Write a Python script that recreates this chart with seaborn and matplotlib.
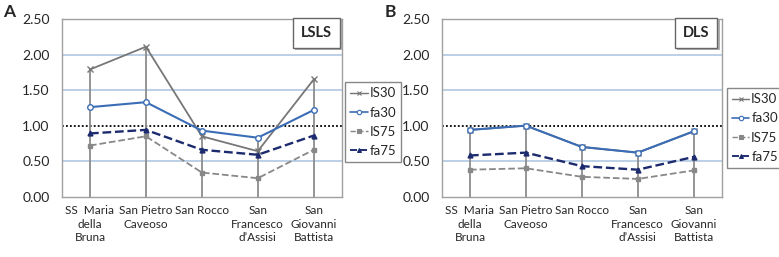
import pandas as pd
import seaborn as sns
import matplotlib.pyplot as plt
import matplotlib.patheffects as pe

# sites on the x axis
sites = ["SS  Maria\ndella\nBruna", "San Pietro\nCaveoso", "San Rocco",
         "San\nFrancesco\nd\u2019Assisi", "San\nGiovanni\nBattista"]
series = ["IS30", "fa30", "IS75", "fa75"]

# panel A (LSLS)
lsls_is30 = [1.79, 2.11, 0.85, 0.64, 1.65]
lsls_fa30 = [1.26, 1.33, 0.93, 0.83, 1.22]
lsls_is75 = [0.72, 0.85, 0.34, 0.26, 0.66]
lsls_fa75 = [0.89, 0.94, 0.66, 0.59, 0.86]

# panel B (DLS)
dls_is30 = [0.94, 1.00, 0.70, 0.62, 0.92]
dls_fa30 = [0.94, 1.00, 0.70, 0.62, 0.92]
dls_is75 = [0.38, 0.40, 0.28, 0.25, 0.37]
dls_fa75 = [0.58, 0.62, 0.43, 0.38, 0.56]

yticks = [0.0, 0.5, 1.0, 1.5, 2.0, 2.5]

styles = {
    "IS30": dict(color="#777777", ls="-", lw=1.3, marker="x", ms=4, mfc="#777777"),
    "fa30": dict(color="#3a6db5", ls="-", lw=1.5, marker="o", ms=4, mfc="white"),
    "IS75": dict(color="#888888", ls="--", lw=1.3, marker="s", ms=3.2, mfc="#888888"),
    "fa75": dict(color="#1c2a6e", ls="--", lw=1.7, marker="^", ms=3.5, mfc="#1c2a6e"),
}

sns.set_style("white")
plt.rcParams["font.family"] = ["Lato", "DejaVu Sans"]

fig = plt.figure(figsize=(7.79, 2.57), dpi=100)


def draw_panel(left, values, tag, letter, letter_x, leg_xy):
    ax = fig.add_axes([left, 0.2346, 0.359, 0.6914])
    df = pd.DataFrame({"site": sites * 4,
                       "series": sum([[s] * 5 for s in series], []),
                       "value": sum(values, [])})
    # grid lines and reference line
    for g in [0.5, 1.5, 2.0]:
        ax.axhline(g, color="#a9c3df", lw=1.1, zorder=0)
    ax.axhline(1.0, color="black", lw=1.3, ls=(0, (1, 1.2)), zorder=1)
    # drop lines from axis to the highest value
    tops = df.groupby("site", sort=False)["value"].max()
    ax.vlines(range(len(sites)), 0, tops.values, color="#8c8c8c", lw=1.3, zorder=1)
    handles = []
    for s in series:
        st = styles[s]
        sub = df[df["series"] == s]
        sns.lineplot(data=sub, x="site", y="value", ax=ax, color=st["color"],
                     lw=st["lw"], ls=st["ls"], marker=st["marker"], ms=st["ms"],
                     mfc=st["mfc"], mec=st["color"], mew=1, zorder=3)
        handles.append(plt.Line2D([], [], color=st["color"], lw=st["lw"] * 0.8,
                                  ls=st["ls"], marker=st["marker"], ms=st["ms"] * 0.8,
                                  mfc=st["mfc"], mec=st["color"], mew=0.8))
    ax.set_xlim(-0.5, 4.5)
    ax.set_ylim(0, 2.5)
    ax.set_yticks(yticks)
    ax.set_yticklabels([f"{v:.2f}" for v in yticks])
    ax.set_xlabel("")
    ax.set_ylabel("")
    ax.tick_params(axis="y", length=4, width=1, color="#999999", pad=5, labelsize=10)
    ax.tick_params(axis="x", length=0, pad=6, labelsize=8.5)
    for lab in ax.get_xticklabels():
        lab.set_linespacing(1.3)
    for sp in ax.spines.values():
        sp.set_color("#a0a0a0")
        sp.set_linewidth(1)
    # tag box with a small shadow
    t = ax.text(0.909, 0.924, tag, transform=ax.transAxes, ha="center", va="center",
                fontsize=10.5, fontweight="bold", zorder=5,
                bbox=dict(boxstyle="square,pad=0.55", fc="white", ec="#666666", lw=1))
    t.get_bbox_patch().set_path_effects([
        pe.SimplePatchShadow(offset=(1.5, -1.5), shadow_rgbFace="#b0b0b0", alpha=1),
        pe.Normal()])
    fig.text(letter_x, 0.952, letter, fontsize=12.5, fontweight="bold",
             ha="left", va="center")
    leg = fig.legend(handles, series, loc="upper left", bbox_to_anchor=leg_xy,
                     bbox_transform=fig.transFigure, borderaxespad=0,
                     fontsize=9.5, handlelength=1.3, handletextpad=0.15,
                     labelspacing=0.55, borderpad=0.4, fancybox=False,
                     framealpha=1, edgecolor="#888888")
    leg.get_frame().set_linewidth(1)
    return ax


draw_panel(0.0796, [lsls_is30, lsls_fa30, lsls_is75, lsls_fa75], "LSLS", "A",
           0.004, (0.443, 0.681))
draw_panel(0.5674, [dls_is30, dls_fa30, dls_is75, dls_fa75], "DLS", "B",
           0.494, (0.933, 0.658))

plt.savefig("out.png", dpi=100)
